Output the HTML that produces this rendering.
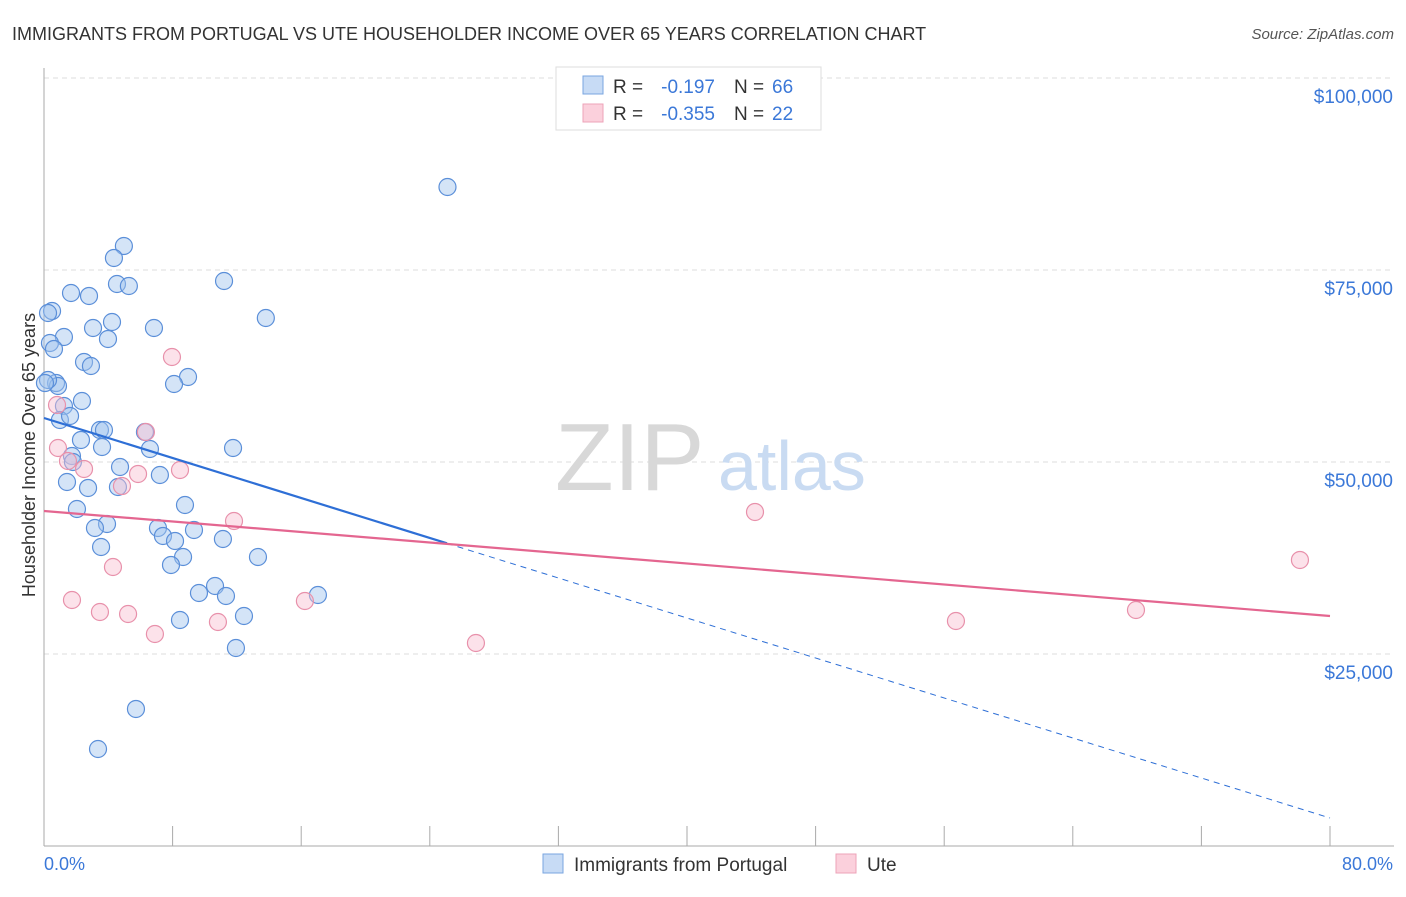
<!DOCTYPE html>
<html><head><meta charset="utf-8"><style>
body{margin:0;background:#fff;font-family:"Liberation Sans",sans-serif;}
svg text{font-family:"Liberation Sans",sans-serif;}
</style></head><body>
<svg width="1406" height="892" xmlns="http://www.w3.org/2000/svg">
<text x="12" y="40" font-size="18" fill="#333">IMMIGRANTS FROM PORTUGAL VS UTE HOUSEHOLDER INCOME OVER 65 YEARS CORRELATION CHART</text>
<text x="1394" y="39" font-size="15" fill="#555" font-style="italic" text-anchor="end">Source: ZipAtlas.com</text>
<g id="grid"></g>
<text x="555" y="490" font-size="96" fill="#d8d8d8" font-family="Liberation Serif">ZIP</text>
<text x="718" y="490" font-size="70" fill="#c9dbf2">atlas</text>
<g id="axes"></g>
<g id="pts"></g>
<g id="lines"></g>
<text x="35" y="455" font-size="18" fill="#333" text-anchor="middle" transform="rotate(-90 35 455)">Householder Income Over 65 years</text>
<text x="44" y="870" font-size="18" fill="#3b78d8">0.0%</text>
<text x="1393" y="870" font-size="18" fill="#3b78d8" text-anchor="end">80.0%</text>
<g>
<rect x="556" y="67" width="265" height="63" fill="#fff" stroke="#ddd"/>
<rect x="583" y="76" width="20" height="18" fill="#c7dbf5" stroke="#7aa6e0"/>
<rect x="583" y="104" width="20" height="18" fill="#fbd0dc" stroke="#eea3b8"/>
<text x="613" y="93" font-size="19" fill="#333">R =</text>
<text x="715" y="93" font-size="19" fill="#3b78d8" text-anchor="end">-0.197</text>
<text x="734" y="93" font-size="19" fill="#333">N =</text>
<text x="772" y="93" font-size="19" fill="#3b78d8">66</text>
<text x="613" y="120" font-size="19" fill="#333">R =</text>
<text x="715" y="120" font-size="19" fill="#3b78d8" text-anchor="end">-0.355</text>
<text x="734" y="120" font-size="19" fill="#333">N =</text>
<text x="772" y="120" font-size="19" fill="#3b78d8">22</text>
</g>
<g>
<rect x="543" y="854" width="20" height="19" fill="#c7dbf5" stroke="#7aa6e0"/>
<text x="574" y="871" font-size="19" fill="#333">Immigrants from Portugal</text>
<rect x="836" y="854" width="20" height="19" fill="#fbd0dc" stroke="#eea3b8"/>
<text x="867" y="871" font-size="19" fill="#333">Ute</text>
</g>
</svg>
<script>
const yTicks=[25000,50000,75000,100000];
const yTickLabels=["$25,000","$50,000","$75,000","$100,000"];
const xTicks=[0,8,16,24,32,40,48,56,64,72,80];
const blueX=[25.1,4.97,4.35,11.2,4.54,5.28,1.68,2.8,13.8,0.5,0.25,4.23,3.05,6.84,1.24,3.98,0.37,0.62,2.49,2.92,8.96,8.09,0.75,0.87,0.25,2.36,1.24,0.99,1.62,3.48,3.73,6.28,2.3,6.59,11.76,3.61,1.74,1.8,4.73,7.21,1.43,2.74,4.6,8.77,2.05,3.92,3.17,7.09,7.4,9.33,8.15,11.13,3.55,8.65,13.31,7.9,10.64,9.64,11.32,17.04,12.44,8.46,11.94,5.72,3.36,0.06];
const blueY=[85807,78125,76563,73568,73177,72917,72005,71615,68750,69661,69401,68229,67448,67448,66276,66016,65495,64714,63021,62500,61068,60156,60286,59896,60677,57943,57292,55469,55990,54167,54167,53906,52865,51693,51823,51953,50781,50000,49349,48307,47396,46615,46745,44401,43880,41927,41406,41406,40365,41146,39714,39974,38932,37630,37630,36589,33854,32943,32552,32682,29948,29427,25781,17839,12630,60286];
const pinkX=[0.81,0.87,1.49,2.49,6.34,7.96,8.46,5.85,4.85,11.82,4.29,1.74,3.48,5.23,6.9,10.82,16.23,26.87,44.23,56.73,67.93,78.13];
const pinkY=[57422,51823,50130,49089,53906,63672,48958,48438,46875,42318,36328,32031,30469,30208,27604,29167,31901,26432,43490,29297,30729,37240];
const blueTrend=[55729,3646], pinkTrend=[43620,29948], blueSolidEnd=25.07;
const NS="http://www.w3.org/2000/svg";
const xs=v=>44+v*16.075, ys=v=>846-v/25000*192;
function mk(tag,attrs,parent){const e=document.createElementNS(NS,tag);for(const k in attrs)e.setAttribute(k,attrs[k]);document.getElementById(parent).appendChild(e);return e;}
const topGrid=mk('line',{x1:44,x2:1394,y1:78,y2:78,stroke:'#ddd','stroke-dasharray':'5,4'},'grid');


yTicks.forEach((t,i)=>{
 const g=mk('line',{x1:44,x2:1394,y1:ys(t),y2:ys(t),stroke:'#ddd','stroke-dasharray':'5,4'},'grid');
 
 
 const l=mk('text',{x:1393,y:ys(t)+25,'font-size':19,fill:'#3b78d8','text-anchor':'end'},'axes');
 l.textContent=yTickLabels[i];
 
 
});
const ax=mk('line',{x1:44,x2:44,y1:68,y2:846,stroke:'#aaa'},'axes');


const bx=mk('line',{x1:44,x2:1394,y1:846,y2:846,stroke:'#aaa'},'axes');


xTicks.forEach(t=>{
 const k=mk('line',{x1:xs(t),x2:xs(t),y1:826,y2:846,stroke:'#aaa'},'axes');
 
 
});
blueX.forEach((x,i)=>{
 const c=mk('circle',{cx:xs(x),cy:ys(blueY[i]),r:8.5,fill:'rgba(160,195,238,0.45)',stroke:'#5b8fd9','stroke-width':1.2},'pts');
 
 
});
pinkX.forEach((x,i)=>{
 const c=mk('circle',{cx:xs(x),cy:ys(pinkY[i]),r:8.5,fill:'rgba(248,190,208,0.45)',stroke:'#e891ab','stroke-width':1.2},'pts');
 
 
});
const bAt=x=>blueTrend[0]+(blueTrend[1]-blueTrend[0])*x/80;
const l1=mk('line',{x1:xs(0),y1:ys(bAt(0)),x2:xs(blueSolidEnd),y2:ys(bAt(blueSolidEnd)),stroke:'#2e6fd6','stroke-width':2.2},'lines');


const l2=mk('line',{x1:xs(blueSolidEnd),y1:ys(bAt(blueSolidEnd)),x2:xs(80),y2:ys(bAt(80)),stroke:'#2e6fd6','stroke-width':1,'stroke-dasharray':'6,5'},'lines');


const l3=mk('line',{x1:xs(0),y1:ys(pinkTrend[0]),x2:xs(80),y2:ys(pinkTrend[1]),stroke:'#e46690','stroke-width':2.2},'lines');


</script>
</body></html>
